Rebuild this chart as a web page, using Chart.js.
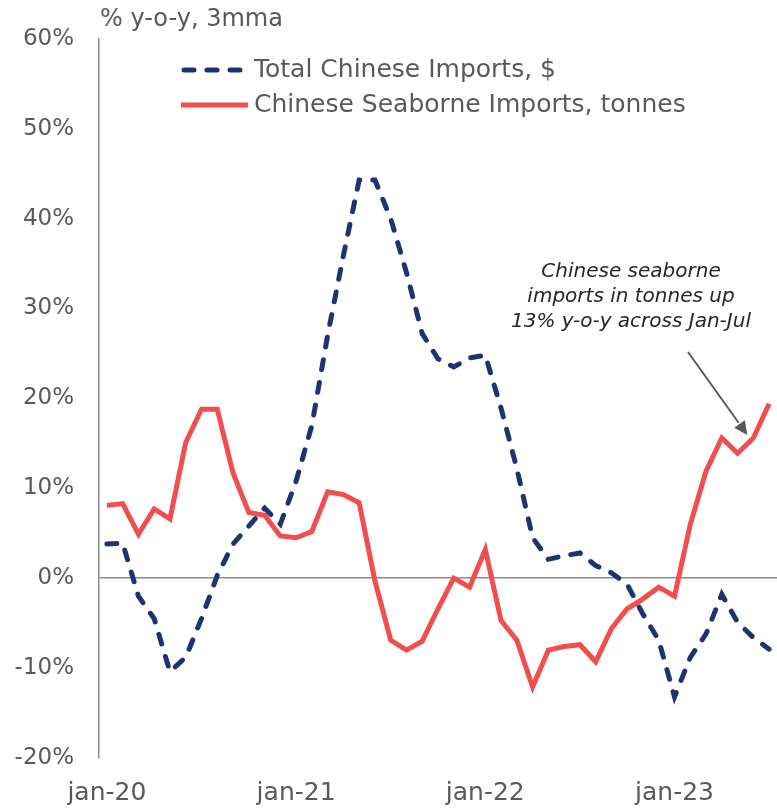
<!DOCTYPE html>
<html lang="en">

<head>
  <meta charset="utf-8">
  <meta name="viewport" content="width=device-width, initial-scale=1">
  <style>
    body {
      margin: 0;
      background-color: #ffffff;
    }

    .chart-container {
      position: relative;
      width: 777px;
      height: 808px;
    }
  </style>
</head>

<body>
  <div class="chart-container">
    <canvas id="myChart"></canvas>
  </div>

  <script src="https://cdn.jsdelivr.net/npm/chart.js"></script>
  <script>

    const MONTHS = ['jan', 'feb', 'mar', 'apr', 'may', 'jun', 'jul', 'aug', 'sep', 'oct', 'nov', 'dec'];
    const YEARS = ['20', '21', '22', '23'];

    // jan-20 .. jul-23
    const labels = [];
    YEARS.forEach((yr) => {
      MONTHS.forEach((m) => {
        if (yr == '23' && labels.length >= 43) return;
        labels.push(m + '-' + yr);
      });
    });

    // % y-o-y, 3mma
    const totalImports = [
      3.8, 3.9, -2.0, -4.5, -10.4, -8.8, -4.5, 0.3, 3.8, 5.8, 7.8, 6.0,
      10.8, 17.0, 27.0, 35.9, 44.3, 44.3, 40.0, 34.0, 27.2, 24.4, 23.5, 24.5,
      24.8, 18.9, 12.2, 4.5, 2.1, 2.5, 2.8, 1.4, 0.6, -0.7, -4.0, -6.9,
      -13.2, -8.8, -6.2, -1.8, -4.9, -6.6, -7.9
    ];

    const seaborneImports = [
      8.1, 8.3, 4.9, 7.7, 6.6, 15.1, 18.8, 18.8, 11.7, 7.3, 7.0, 4.7,
      4.5, 5.2, 9.6, 9.3, 8.4, -0.3, -6.9, -8.0, -7.0, -3.4, 0.0, -1.0,
      3.2, -4.7, -6.9, -12.1, -8.0, -7.6, -7.4, -9.3, -5.6, -3.4, -2.3, -1.0,
      -2.0, 6.0, 11.9, 15.6, 13.9, 15.6, 19.4
    ];

    const yTicks = [-20, -10, 0, 10, 20, 30, 40, 50, 60];

    const seriesNames = ['Total Chinese Imports, $', 'Chinese Seaborne Imports, tonnes'];
    const noteLines = ['Chinese seaborne', 'imports in tonnes up', '13% y-o-y across Jan-Jul'];

    const FONT = '"DejaVu Sans", sans-serif';
    const GREY = '#595959';
    const NAVY = '#1f3370';
    const RED = '#f24d4f';
    const DASH = [10, 13];

    /* ------------------------------------------------ */

    // legend, unit label and the callout, drawn straight on the canvas
    const extras = {
      id: 'extras',
      afterDraw(chart) {
        const ctx = chart.ctx;
        const area = chart.chartArea;
        const xs = chart.scales.x;
        const ys = chart.scales.y;

        ctx.save();

        // unit label
        ctx.font = '24px ' + FONT;
        ctx.fillStyle = GREY;
        ctx.textAlign = 'left';
        ctx.textBaseline = 'middle';
        ctx.fillText('% y-o-y, 3mma', area.left + 1, 20);

        // legend
        ctx.font = '25px ' + FONT;
        chart.data.datasets.forEach((ds, i) => {
          const y = 70 + i * 35;
          ctx.beginPath();
          ctx.strokeStyle = ds.borderColor;
          ctx.lineWidth = 5;
          ctx.lineCap = ds.borderDash ? 'round' : 'butt';
          ctx.setLineDash(ds.borderDash || []);
          ctx.lineDashOffset = -3;
          ctx.moveTo(181, y);
          ctx.lineTo(ds.borderDash ? 242 : 248, y);
          ctx.stroke();
          ctx.setLineDash([]);
          ctx.fillStyle = GREY;
          ctx.fillText(ds.label, 254, y);
        });

        // callout text
        ctx.font = 'italic 20px ' + FONT;
        ctx.fillStyle = '#262626';
        ctx.textAlign = 'center';
        noteLines.forEach((line, i) => {
          ctx.fillText(line, 631, 272 + i * 25);
        });

        // arrow towards the jun-23 reading
        const tx = xs.getPixelForValue(41) - 6;
        const ty = ys.getPixelForValue(seaborneImports[41]) - 3;
        const sx = 688, sy = 352;
        const ang = Math.atan2(ty - sy, tx - sx);
        const head = 15;
        ctx.strokeStyle = GREY;
        ctx.fillStyle = GREY;
        ctx.lineWidth = 2;
        ctx.lineCap = 'butt';
        ctx.beginPath();
        ctx.moveTo(sx, sy);
        ctx.lineTo(tx - Math.cos(ang) * head, ty - Math.sin(ang) * head);
        ctx.stroke();
        ctx.beginPath();
        ctx.moveTo(tx, ty);
        ctx.lineTo(tx - head * Math.cos(ang - 0.45), ty - head * Math.sin(ang - 0.45));
        ctx.lineTo(tx - head * Math.cos(ang + 0.45), ty - head * Math.sin(ang + 0.45));
        ctx.closePath();
        ctx.fill();

        ctx.restore();
      }
    };

    /* ------------------------------------------------ */

    function buildChart() {
      const ctx = document.getElementById('myChart').getContext('2d');

      new Chart(ctx, {
        type: 'line',
        data: {
          labels: labels,
          datasets: [
            {
              label: seriesNames[0],
              data: totalImports,
              borderColor: NAVY,
              backgroundColor: NAVY,
              borderWidth: 5,
              borderDash: DASH,
              borderCapStyle: 'round',
              pointRadius: 0,
              tension: 0,
              fill: false
            },
            {
              label: seriesNames[1],
              data: seaborneImports,
              borderColor: RED,
              backgroundColor: RED,
              borderWidth: 5,
              pointRadius: 0,
              tension: 0,
              fill: false
            }
          ]
        },
        options: {
          responsive: true,
          maintainAspectRatio: false,
          animation: false,
          layout: {
            padding: { top: 28, right: 0, bottom: 0, left: 0 }
          },
          scales: {
            x: {
              offset: true,
              grid: { display: false },
              border: { display: false },
              ticks: {
                autoSkip: false,
                maxRotation: 0,
                padding: 12,
                color: GREY,
                font: { family: FONT, size: 25 },
                callback: (val, i) => (i % 12 == 0 ? labels[i] : '')
              },
              afterFit: (scale) => {
                scale.height = 50;
                scale.paddingLeft = 0;
                scale.paddingRight = 0;
              }
            },
            y: {
              min: -20,
              max: 60,
              afterBuildTicks: (scale) => {
                scale.ticks = yTicks.map((v) => ({ value: v }));
              },
              grid: {
                drawTicks: false,
                lineWidth: 1.5,
                color: (c) => (c.tick && c.tick.value === 0 ? '#8c8c8c' : 'rgba(0,0,0,0)')
              },
              border: { display: true, color: '#8c8c8c', width: 1.5 },
              ticks: {
                padding: 25,
                color: GREY,
                font: { family: FONT, size: 23 },
                callback: (v) => v + '%'
              },
              afterFit: (scale) => { scale.width = 99; }
            }
          },
          plugins: {
            legend: { display: false },
            tooltip: { enabled: false }
          }
        },
        plugins: [extras]
      });
    }

    buildChart();

  </script>
</body>

</html>
